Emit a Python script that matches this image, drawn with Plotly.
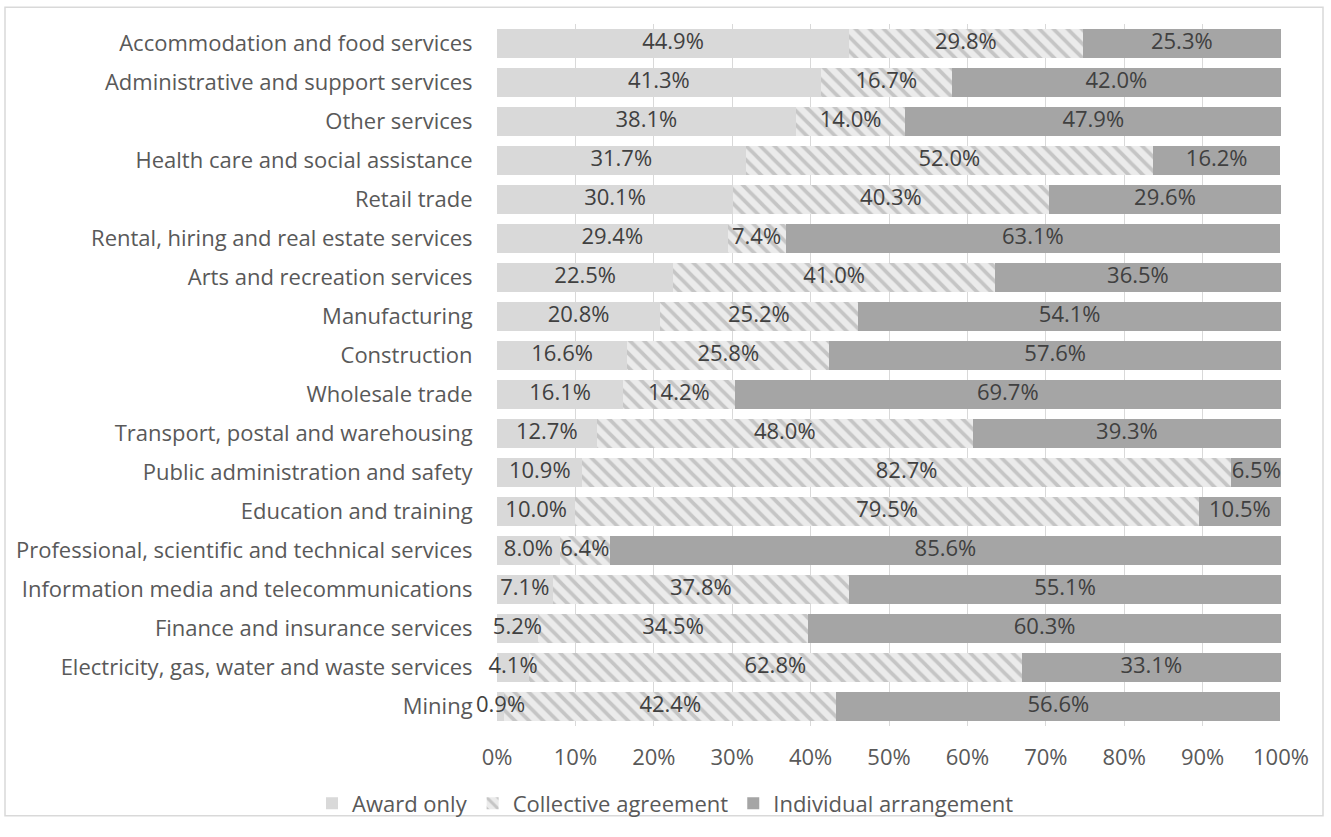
import plotly.graph_objects as go

categories = [
    "Accommodation and food services",
    "Administrative and support services",
    "Other services",
    "Health care and social assistance",
    "Retail trade",
    "Rental, hiring and real estate services",
    "Arts and recreation services",
    "Manufacturing",
    "Construction",
    "Wholesale trade",
    "Transport, postal and warehousing",
    "Public administration and safety",
    "Education and training",
    "Professional, scientific and technical services",
    "Information media and telecommunications",
    "Finance and insurance services",
    "Electricity, gas, water and waste services",
    "Mining",
]
award_only = [44.9, 41.3, 38.1, 31.7, 30.1, 29.4, 22.5, 20.8, 16.6, 16.1, 12.7, 10.9, 10.0, 8.0, 7.1, 5.2, 4.1, 0.9]
collective = [29.8, 16.7, 14.0, 52.0, 40.3, 7.4, 41.0, 25.2, 25.8, 14.2, 48.0, 82.7, 79.5, 6.4, 37.8, 34.5, 62.8, 42.4]
individual = [25.3, 42.0, 47.9, 16.2, 29.6, 63.1, 36.5, 54.1, 57.6, 69.7, 39.3, 6.5, 10.5, 85.6, 55.1, 60.3, 33.1, 56.6]
x_ticks = [0, 10, 20, 30, 40, 50, 60, 70, 80, 90, 100]

FONT = "Open Sans, sans-serif"
TXT = "#404040"
FS = 22

def lab(v):
    return [f"{x:.1f}%" for x in v]

series = [
    ("Award only", award_only,
     dict(color="#d9d9d9", line=dict(width=0))),
    ("Collective agreement", collective,
     dict(color="#ebebeb", line=dict(width=0),
          pattern=dict(shape="\\", fgcolor="#a0a0a0", bgcolor="#ebebeb", size=10, solidity=0.38))),
    ("Individual arrangement", individual,
     dict(color="#a5a5a5", line=dict(width=0))),
]

fig = go.Figure()
for name, vals, marker in series:
    fig.add_trace(go.Bar(name=name, y=categories, x=vals, orientation="h",
                         marker=marker, hoverinfo="skip"))

# value labels centred in each segment, drawn on top of all bars
base = [0.0] * len(categories)
for name, vals, _ in series:
    centers = [b + v / 2 for b, v in zip(base, vals)]
    fig.add_trace(go.Scatter(
        x=centers, y=categories, mode="text", text=lab(vals),
        textposition="middle center", cliponaxis=False, showlegend=False,
        textfont=dict(size=FS, color=TXT, family=FONT), hoverinfo="skip",
    ))
    base = [b + v for b, v in zip(base, vals)]

fig.update_layout(
    width=1331, height=837,
    barmode="stack", bargap=0.25,
    paper_bgcolor="white", plot_bgcolor="white",
    margin=dict(l=497, r=50, t=24, b=100),
    font=dict(family=FONT, size=FS, color=TXT),
    xaxis=dict(
        range=[0, 100], tickvals=x_ticks, ticktext=[f"{t}%" for t in x_ticks],
        showgrid=True, gridcolor="#d9d9d9", gridwidth=1, zeroline=False,
        ticks="outside", ticklen=11, tickcolor="rgba(0,0,0,0)",
        tickfont=dict(size=FS, color="#595959", family=FONT),
        showline=False, fixedrange=True,
    ),
    yaxis=dict(
        categoryorder="array", categoryarray=categories[::-1],
        autorange=False, range=[-0.5, len(categories) - 0.5],
        ticks="outside", ticklen=19, tickcolor="rgba(0,0,0,0)",
        tickfont=dict(size=FS, color="#595959", family=FONT),
        showgrid=False, showline=False,
    ),
    legend=dict(
        orientation="h", xref="container", yref="container",
        x=0.5, xanchor="center", y=0.04, yanchor="middle",
        bgcolor="rgba(0,0,0,0)",
        font=dict(size=FS, color="#595959", family=FONT),
        itemsizing="constant", traceorder="normal", itemwidth=30,
    ),
    showlegend=True,
)

# light frame around the chart area
pw = 1331 - 497 - 50
ph = 837 - 24 - 100
fig.add_shape(
    type="rect", xref="paper", yref="paper",
    x0=(5 - 497) / pw, x1=(1323 - 497) / pw,
    y0=(837 - 100 - 828) / ph, y1=(837 - 100 - 7) / ph,
    line=dict(color="#d9d9d9", width=1.5), fillcolor="rgba(0,0,0,0)", layer="below",
)

fig.write_html("out.html")
